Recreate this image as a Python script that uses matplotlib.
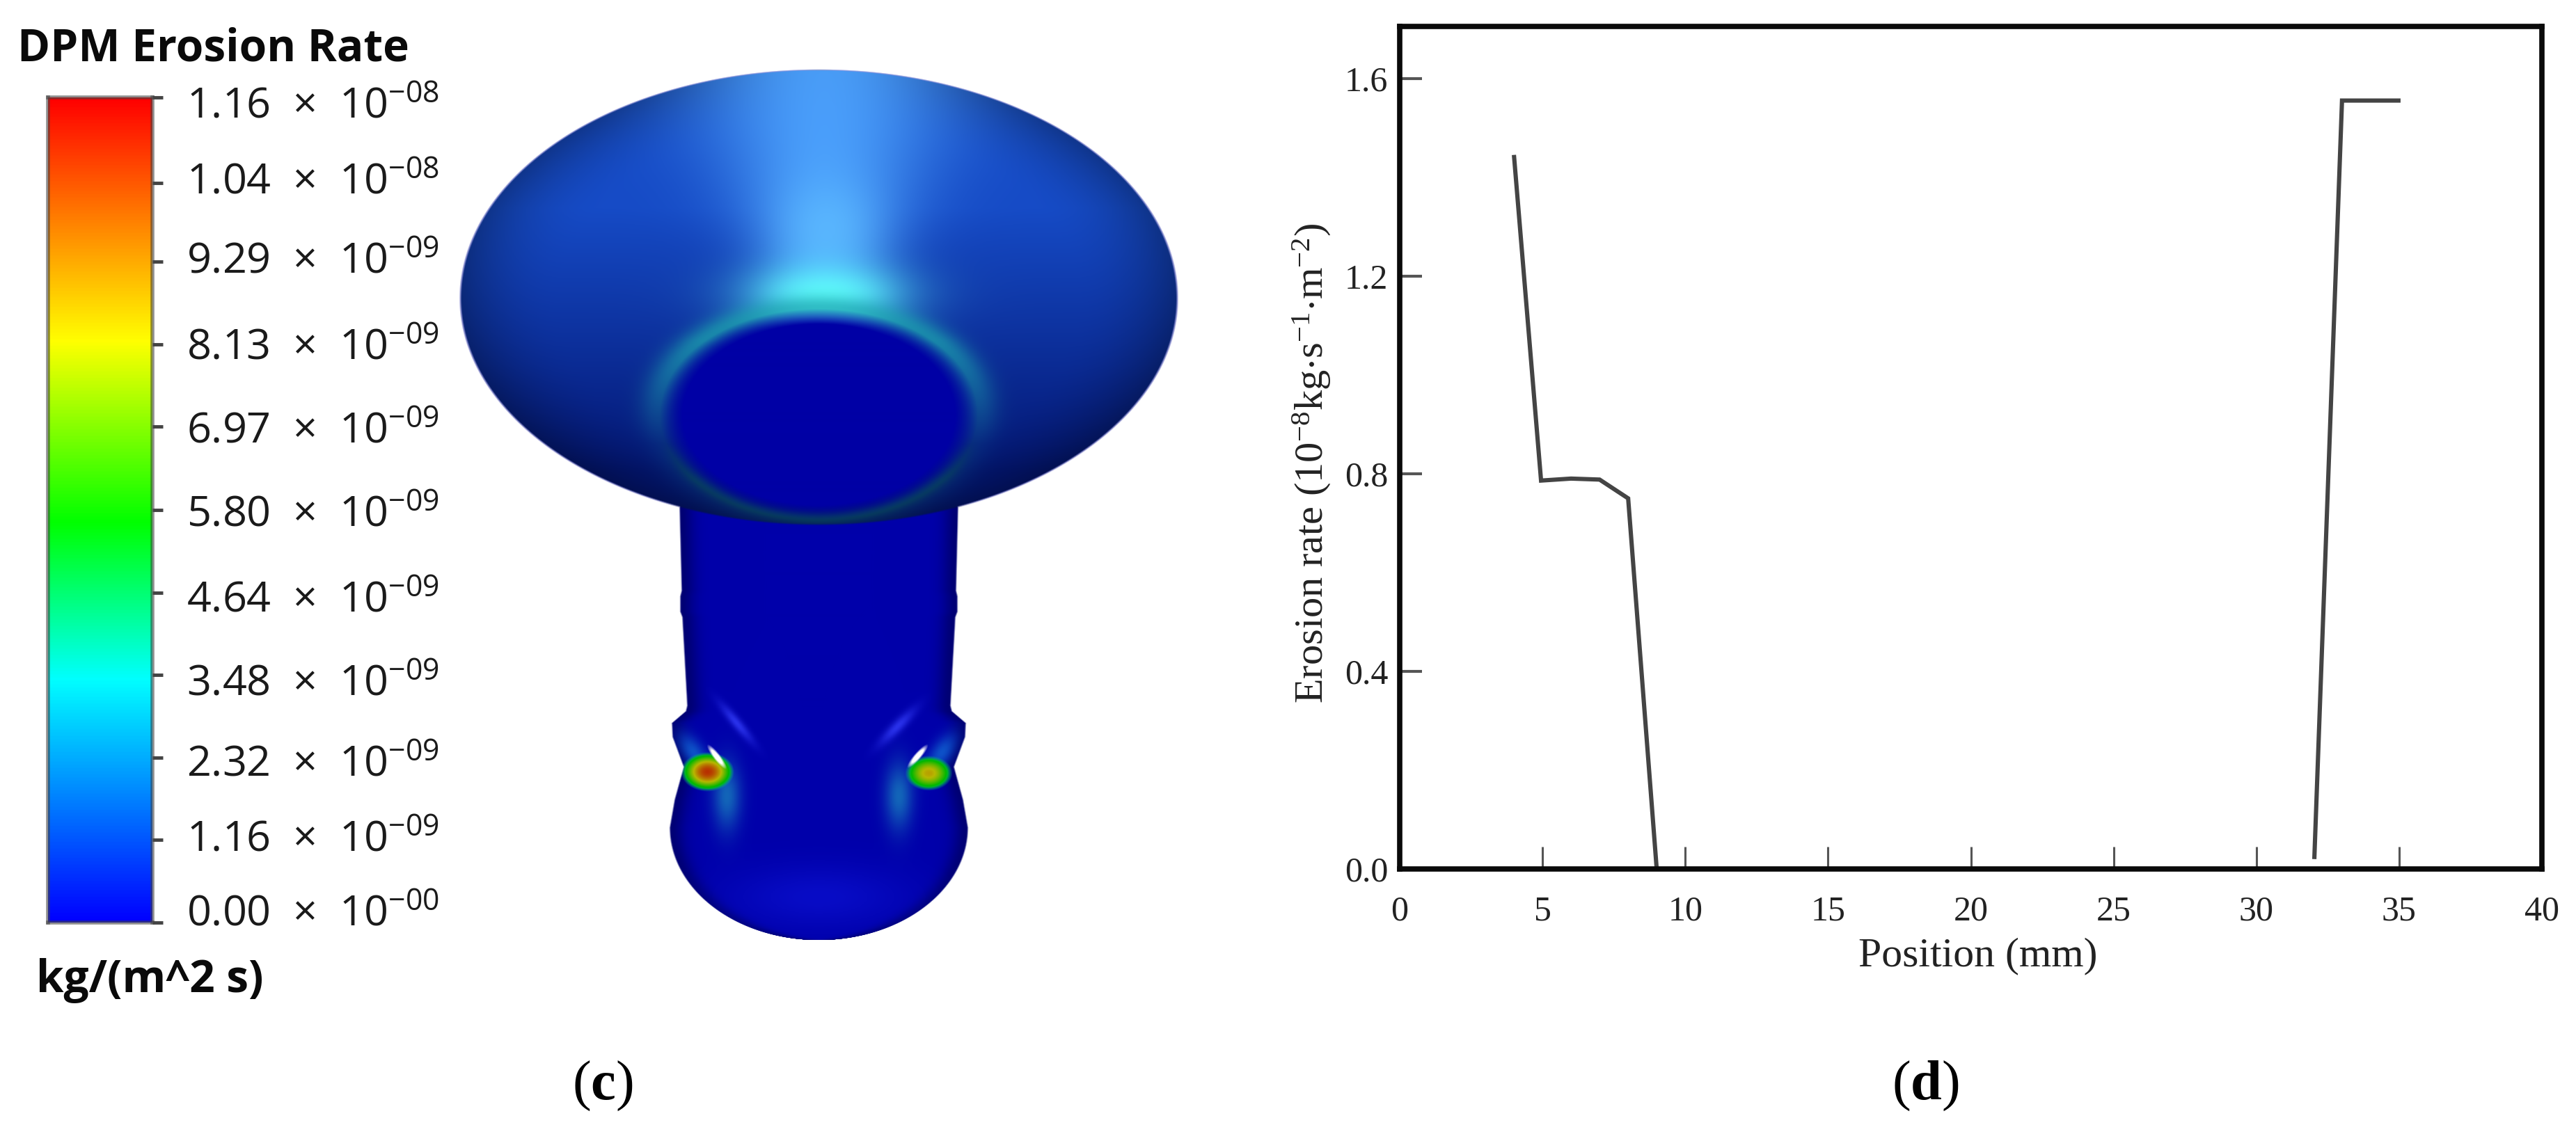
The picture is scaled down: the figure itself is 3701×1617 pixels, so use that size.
import matplotlib
matplotlib.use("Agg")
import matplotlib.pyplot as plt
import matplotlib.transforms as mtrans
from matplotlib.colors import LinearSegmentedColormap
import numpy as np

W, H = 3701, 1617

# erosion rate along the wall (panel d)
pos_left = [4, 4.95, 6, 7, 8, 9]
rate_left = [1.445, 0.786, 0.79, 0.788, 0.75, 0.0]
pos_right = [32.03, 33, 35.05]
rate_right = [0.02, 1.555, 1.555]
x_ticks = [0, 5, 10, 15, 20, 25, 30, 35, 40]
y_ticks = [0.0, 0.4, 0.8, 1.2, 1.6]

# legend of the contour plot (panel c)
cbar_values = [1.16e-8, 1.04e-8, 9.29e-9, 8.13e-9, 6.97e-9, 5.80e-9, 4.64e-9, 3.48e-9, 2.32e-9, 1.16e-9, 0.0]
cbar_mant = ["1.16", "1.04", "9.29", "8.13", "6.97", "5.80", "4.64", "3.48", "2.32", "1.16", "0.00"]
cbar_exp = ["08", "08", "09", "09", "09", "09", "09", "09", "09", "09", "00"]
# labels do not sit exactly on their ticks in the original (pixels, + is down)
cbar_label_shift = [7, -7, -6, -1, 0, 1, 5, 7, 4, -7, -18]

plt.rcParams["mathtext.fontset"] = "custom"
plt.rcParams["mathtext.rm"] = "Liberation Serif"
plt.rcParams["mathtext.bf"] = "Liberation Serif:bold"
plt.rcParams["mathtext.default"] = "regular"

erosion_cmap = LinearSegmentedColormap.from_list("erosion", [
    (0.0, "#0000ff"), (0.294, "#00ffff"), (0.485, "#00ff00"), (0.705, "#ffff00"), (1.0, "#ff0000")])

fig = plt.figure(figsize=(W / 100, H / 100), dpi=100, facecolor="white")


def axes_px(x0, y0, x1, y1):
    return fig.add_axes([x0 / W, 1 - y1 / H, (x1 - x0) / W, (y1 - y0) / H])


# ---- rendered part (panel c), painted on a pixel grid ----
gx, gy = np.meshgrid(np.arange(640, 1712), np.arange(90, 1372))
gx = gx.astype(float)
gy = gy.astype(float)


def soft(d, w=2.5):
    return np.clip(d / w + 0.5, 0, 1)


def blend(img, col, a):
    a = np.clip(a, 0, 1)[..., None]
    return img * (1 - a) + np.array(col, dtype=float) / 255 * a


def rot_gauss(cx, cy, sa, sb, ang):
    t = np.deg2rad(ang)
    u = (gx - cx) * np.cos(t) + (gy - cy) * np.sin(t)
    v = -(gx - cx) * np.sin(t) + (gy - cy) * np.cos(t)
    return np.exp(-(u / sa) ** 2 - (v / sb) ** 2)


def rot_ell(cx, cy, sa, sb, ang):
    t = np.deg2rad(ang)
    u = (gx - cx) * np.cos(t) + (gy - cy) * np.sin(t)
    v = -(gx - cx) * np.sin(t) + (gy - cy) * np.cos(t)
    return soft((1 - np.sqrt((u / sa) ** 2 + (v / sb) ** 2)) * min(sa, sb))


cx0 = 1177
img = np.zeros(gx.shape + (3,))
alpha = np.zeros(gx.shape)

# stem, ears and upper bulb outline, half width against height
prof_y = [690, 850, 858, 880, 888, 1015, 1023, 1040, 1060, 1103, 1150, 1190]
prof_w = [201, 197, 199, 199, 196, 189, 191, 211, 210, 194, 207, 214]
hw = np.interp(gy, prof_y, prof_w, left=0)
below = gy > 1190
hw[below] = 214 * np.sqrt(np.clip(1 - ((gy[below] - 1190) / 162) ** 2, 0, 1))
stem = soft(hw - np.abs(gx - cx0)) * (hw > 1)
img = blend(img, (0, 0, 170), np.ones(gx.shape))
img = blend(img, (0, 0, 115), np.exp(-((hw - np.abs(gx - cx0)) / 20) ** 2))
img = blend(img, (10, 15, 205), 0.8 * rot_gauss(cx0, 1290, 130, 45, 0))
alpha = np.maximum(alpha, stem)

# wakes and streaks
for wx in [1045, 1292]:
    img = blend(img, (25, 135, 190), 0.75 * rot_gauss(wx, 1145, 20, 48, 0))
img = blend(img, (55, 65, 255), 0.75 * rot_gauss(1059, 1040, 34, 7, 50))
img = blend(img, (55, 65, 255), 0.75 * rot_gauss(1290, 1045, 34, 8, -45))

# jets around the two holes
for hx, hy, peak, tail_ang, tail_x in [(1017, 1110, 0.92, 55, 997), (1335, 1112, 0.74, 125, 1354)]:
    img = blend(img, (15, 90, 205), 0.9 * rot_gauss(tail_x, 1082, 30, 15, tail_ang))
    val = peak * rot_gauss(hx, hy, 38, 28, 0)
    col = erosion_cmap(val)[..., :3] * 0.72
    a = np.clip((val - 0.33) / 0.12, 0, 1)[..., None]
    img = img * (1 - a) + col * a
for s0, s1 in [((1020, 1075), (1041, 1102)), ((1330, 1075), (1308, 1100))]:
    ang = np.rad2deg(np.arctan2(s1[1] - s0[1], s1[0] - s0[0]))
    white = rot_ell((s0[0] + s1[0]) / 2, (s0[1] + s1[1]) / 2, 17, 4, ang)
    img = blend(img, (255, 255, 255), white)

# flared bowl
by = np.where(gy < 430, 328.0, 325.0)
q = np.sqrt(((gx - cx0) / 515) ** 2 + ((gy - 430) / by) ** 2)
bowl = soft((1 - q) * 325)
dark = np.clip((gy - 300) / 380, 0, 1)
bowl_rgb = np.zeros(gx.shape + (3,))
for i, (c0, c1) in enumerate(zip((22, 75, 198), (3, 22, 115))):
    bowl_rgb[..., i] = (c0 + (c1 - c0) * dark) / 255
bowl_rgb = bowl_rgb * (1 - 0.3 * np.clip((q - 0.72) / 0.28, 0, 1) ** 2)[..., None]

# light fan, opening towards the rim
fan_w = 70 + np.clip(430 - gy, 0, None) * 0.42
fan = np.exp(-((gx - 1185) / fan_w) ** 2) * soft(470 - gy, 30)
bowl_rgb = blend(bowl_rgb, (78, 165, 255), 0.92 * fan)
bowl_rgb = blend(bowl_rgb, (95, 190, 255), 0.7 * rot_gauss(1190, 330, 75, 70, 0))
bowl_rgb = blend(bowl_rgb, (95, 250, 252), rot_gauss(1187, 425, 115, 44, 0))

# glow hugging the throat
q_in = np.sqrt(((gx - cx0) / 212) ** 2 + ((gy - 597) / 141) ** 2)
ring_amp = 0.1 + 0.6 * np.clip((640 - gy) / 150, 0, 1)
bowl_rgb = blend(bowl_rgb, (30, 170, 175), ring_amp * np.exp(-((q_in - 1.09) / 0.13) ** 2))
bowl_rgb = blend(bowl_rgb, (8, 75, 90), 0.7 * soft(gy - 660, 60) * np.exp(-((q_in - 1.05) / 0.06) ** 2))
a = bowl[..., None]
img = img * (1 - a) + bowl_rgb * a
alpha = np.maximum(alpha, bowl)

# throat
inner = soft((1 - q_in) * 141, 22)
img = blend(img, (0, 0, 165), inner)

back = fig.add_axes([0, 0, 1, 1], zorder=0)
back.set_xlim(0, W)
back.set_ylim(H, 0)
back.axis("off")
back.imshow(np.dstack([np.clip(img, 0, 1), alpha]), extent=(639.5, 1711.5, 1371.5, 89.5),
            interpolation="bilinear", aspect="auto")

# ---- legend ----
cax = axes_px(69, 140, 219, 1326)
cax.set_zorder(2)
grad = np.linspace(0, 1.16e-8, 512)[:, None]
cax.imshow(grad, origin="lower", cmap=erosion_cmap, aspect="auto", vmin=0, vmax=1.16e-8,
           extent=(0, 1, 0, 1.16e-8))
cax.set_xticks([])
cax.yaxis.tick_right()
cbar_labels = [r"$%s\ \times\ 10^{-%s}$" % (m, e) for m, e in zip(cbar_mant, cbar_exp)]
cax.set_yticks(cbar_values, labels=cbar_labels, family="Open Sans", fontsize=44)
cax.tick_params(axis="y", length=11, width=3.5, color="#444444", pad=24, labelcolor="#1a1a1a")
for lab, shift in zip(cax.get_yticklabels(), cbar_label_shift):
    lab.set_transform(lab.get_transform() + mtrans.ScaledTranslation(0, -shift / 100, fig.dpi_scale_trans))
for sp in cax.spines.values():
    sp.set_linewidth(4)
    sp.set_color("#44444499")

fig.text(25 / W, 1 - 71 / H, "DPM Erosion Rate", family="Open Sans", weight="bold", fontsize=46,
         ha="left", va="center", color="#0a0a0a")
fig.text(52 / W, 1 - 1409 / H, "kg/(m^2 s)", family="Open Sans", weight="bold", fontsize=46,
         ha="left", va="center", color="#0a0a0a")

# ---- line chart ----
ax = axes_px(2011, 38, 3652, 1249)
ax.set_zorder(2)
ax.plot(pos_left, rate_left, color="#444444", lw=4.4, solid_joinstyle="miter", solid_capstyle="butt", zorder=1.5)
ax.plot(pos_right, rate_right, color="#444444", lw=4.4, solid_joinstyle="miter", solid_capstyle="butt", zorder=1.5)
ax.set_xlim(0, 40)
ax.set_ylim(0, 1.705)
ax.set_xticks(x_ticks, labels=[str(v) for v in x_ticks], family="Liberation Serif", fontsize=36)
ax.set_yticks(y_ticks, labels=["%.1f" % v for v in y_ticks], family="Liberation Serif", fontsize=36)
ax.tick_params(axis="x", direction="in", length=23, width=2.2, color="#555555", pad=27, labelcolor="#222222")
ax.tick_params(axis="y", direction="in", length=23, width=3, color="#555555", pad=12, labelcolor="#222222")
for sp in ax.spines.values():
    sp.set_linewidth(5.5)
    sp.set_color("#0a0a0a")
ax.set_xlabel("Position (mm)", family="Liberation Serif", fontsize=43, color="#222222", labelpad=10, x=0.506)
ax.set_ylabel(r"Erosion rate (10$^{-8}$kg$\cdot$s$^{-1}$$\cdot$m$^{-2}$)", family="Liberation Serif",
              fontsize=42, color="#222222", labelpad=12, y=0.482)

# panel letters
fig.text(866 / W, 1 - 1561 / H, r"($\mathbf{c}$)", family="Liberation Serif", fontsize=58, ha="center", va="center")
fig.text(2766 / W, 1 - 1561 / H, r"($\mathbf{d}$)", family="Liberation Serif", fontsize=58, ha="center", va="center")

fig.savefig("out.png", dpi=100, facecolor="white")
